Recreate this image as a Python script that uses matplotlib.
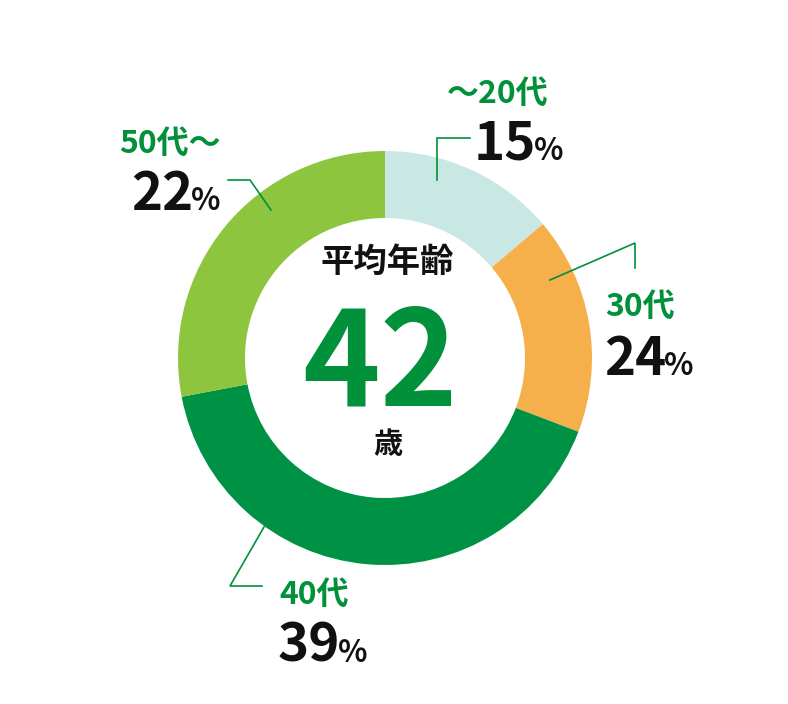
import matplotlib
matplotlib.use("Agg")
import matplotlib.pyplot as plt

plt.rcParams['font.family'] = ['Noto Sans CJK JP', 'DejaVu Sans']

# data
groups = ["～20代", "30代", "40代", "50代～"]
pct_labels = [15, 24, 39, 22]
slice_share = [13.8, 17.0, 41.2, 28.0]   # drawn sizes of the slices
colors = ["#C9E7E3", "#F5B04B", "#009244", "#8DC53F"]
avg_age = 42

GREEN = "#00913A"
W, H = 788, 704

fig = plt.figure(figsize=(W / 100, H / 100), dpi=100)
ax = fig.add_axes([0, 0, 1, 1])

cx, cy = 385, 358
r_out, r_in = 207, 140
ax.pie(slice_share, colors=colors, radius=r_out, center=(cx, cy),
       startangle=-90, counterclock=True,
       wedgeprops=dict(width=r_out - r_in, linewidth=0))
ax.set_xlim(0, W)
ax.set_ylim(H, 0)
ax.set_aspect('equal')
ax.axis('off')

# center text
ax.text(387, 262, "平均年齢", fontsize=24, fontweight='bold', color="#111111",
        ha='center', va='center')
ax.text(380, 405, str(avg_age), fontsize=95, fontweight='bold', color=GREEN,
        ha='center', va='baseline')
ax.text(388, 444, "歳", fontsize=21, fontweight='bold', color="#111111",
        ha='center', va='center')

# label layout per group: x of name, baseline of name, x of number, baseline of number
name_x = [447, 605, 279, 119]
name_base = [103, 316, 604, 153]
num_x = [474, 604, 278, 131]
num_base = [160, 375, 662, 210]
leaders = [
    [(437, 180), (437, 138), (470, 138)],
    [(550, 280), (635, 243), (635, 268)],
    [(264, 527), (230, 586), (262, 586)],
    [(271, 210), (250, 180), (228, 180)],
]

fig.canvas.draw()
rend = fig.canvas.get_renderer()
inv = ax.transData.inverted()
for i, g in enumerate(groups):
    ax.text(name_x[i], name_base[i], g, fontsize=23, fontweight='bold',
            color=GREEN, ha='left', va='baseline')
    t = ax.text(num_x[i], num_base[i], str(pct_labels[i]), fontsize=38,
                fontweight='bold', color="#111111", ha='left', va='baseline')
    bb = t.get_window_extent(renderer=rend)
    x_end = inv.transform((bb.x1, bb.y0))[0]
    ax.text(x_end - 2, num_base[i], "%", fontsize=22, fontweight='bold',
            color="#111111", ha='left', va='baseline')
    pts = leaders[i]
    ax.plot([p[0] for p in pts], [p[1] for p in pts], color=GREEN, lw=1.2,
            solid_joinstyle='miter')

fig.savefig("out.png", dpi=100, facecolor="white")
